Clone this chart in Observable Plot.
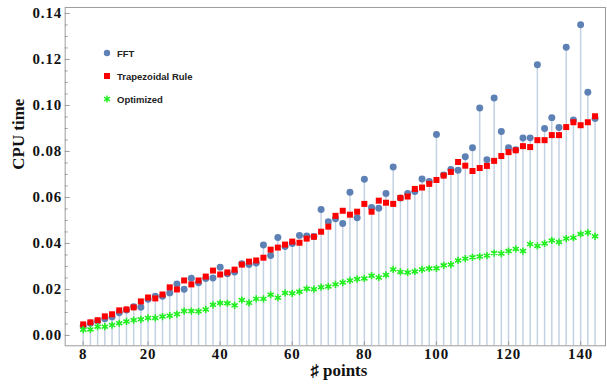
<!DOCTYPE html>
<html><head><meta charset="utf-8">
<script src="https://cdn.jsdelivr.net/npm/d3@7"></script>
<script src="https://cdn.jsdelivr.net/npm/@observablehq/plot@0.6"></script>
<style>
html,body{margin:0;padding:0;overflow:hidden;background:#fff;}
#wrap{position:relative;width:607px;height:387px;overflow:hidden;}
#legend{position:absolute;left:0;top:0;font-family:"Liberation Sans",Arial,sans-serif;font-size:9.5px;font-weight:bold;color:#222;}
.item{position:absolute;left:102px;display:flex;align-items:center;white-space:nowrap;height:10px;}
.item svg{margin-right:5px;}
g[aria-label="y-axis tick label"] text, g[aria-label="x-axis tick label"] text{letter-spacing:0.9px;}
</style></head><body><div id="wrap"><div id="legend"></div></div>
<script>
// x positions of the samples (tick "8" sits at the first sample)
const nPoints = d3.range(2, 146, 2);
const fftTimes = [0.0040,0.0053,0.0063,0.0073,0.0080,0.0099,0.0111,0.0125,0.0123,0.0157,
  0.0171,0.0170,0.0185,0.0224,0.0201,0.0249,0.0229,0.0248,0.0250,0.0297,
  0.0268,0.0276,0.0312,0.0308,0.0315,0.0393,0.0348,0.0426,0.0387,0.0400,
  0.0435,0.0432,0.0430,0.0548,0.0494,0.0507,0.0487,0.0623,0.0512,0.0679,
  0.0556,0.0553,0.0617,0.0732,0.0598,0.0617,0.0626,0.0680,0.0669,0.0874,
  0.0698,0.0722,0.0718,0.0777,0.0816,0.0989,0.0764,0.1032,0.0887,0.0816,
  0.0807,0.0858,0.0859,0.1177,0.0900,0.0947,0.0904,0.1253,0.0937,0.1351,
  0.1057,0.0943];
const trapTimes = [0.0048,0.0057,0.0066,0.0083,0.0092,0.0109,0.0113,0.0122,0.0148,0.0165,
  0.0161,0.0178,0.0209,0.0200,0.0239,0.0222,0.0239,0.0256,0.0282,0.0265,
  0.0274,0.0286,0.0308,0.0321,0.0326,0.0338,0.0373,0.0382,0.0395,0.0408,
  0.0403,0.0421,0.0429,0.0451,0.0473,0.0520,0.0542,0.0525,0.0538,0.0572,
  0.0538,0.0586,0.0577,0.0572,0.0598,0.0604,0.0637,0.0643,0.0659,0.0676,
  0.0695,0.0711,0.0754,0.0738,0.0715,0.0728,0.0737,0.0759,0.0780,0.0797,
  0.0805,0.0823,0.0819,0.0849,0.0849,0.0871,0.0871,0.0906,0.0927,0.0914,
  0.0927,0.0953];
const optTimes = [0.0025,0.0026,0.0038,0.0038,0.0045,0.0053,0.0061,0.0067,0.0070,0.0076,
  0.0076,0.0082,0.0086,0.0093,0.0106,0.0106,0.0105,0.0113,0.0133,0.0141,
  0.0140,0.0131,0.0154,0.0142,0.0159,0.0159,0.0177,0.0164,0.0185,0.0183,
  0.0190,0.0203,0.0201,0.0210,0.0213,0.0222,0.0230,0.0239,0.0245,0.0248,
  0.0260,0.0252,0.0263,0.0287,0.0276,0.0274,0.0278,0.0287,0.0291,0.0292,
  0.0305,0.0308,0.0326,0.0334,0.0340,0.0343,0.0347,0.0358,0.0356,0.0367,
  0.0376,0.0367,0.0397,0.0389,0.0400,0.0413,0.0406,0.0421,0.0425,0.0441,
  0.0447,0.0431];
const seriesNames = ["FFT", "Trapezoidal Rule", "Optimized"];
const xTickValues = [2, 20, 40, 60, 80, 100, 120, 140];
const xTickLabels = ["8", "20", "40", "60", "80", "100", "120", "140"];
const yTickValues = [0, 0.02, 0.04, 0.06, 0.08, 0.10, 0.12, 0.14];
const yMinorTicks = [0.005,0.01,0.015,0.025,0.03,0.035,0.045,0.05,0.055,0.065,0.07,0.075,0.085,0.09,0.095,0.105,0.11,0.115,0.125,0.13,0.135];
const xLabel = "\u266F points";
const yLabel = "CPU time";

const xDomain = [-3, 146.9];
const yDomain = [-0.0045, 0.1426];
const frameColor = "#9c9c9c";
const colors = {fft: "#5e81b5", trap: "#ff0000", opt: "#22ee22", stem: "#c3d1e4"};
const xLabelMap = new Map(xTickValues.map((v, i) => [v, xTickLabels[i]]));

const rows = nPoints.map((x, i) => ({x, fft: fftTimes[i], trap: trapTimes[i], opt: optTimes[i]}));
const tickFont = {fontSize: 15, fontWeight: "bold", fontFamily: "Liberation Serif", fill: "#111"};

const chart = Plot.plot({
  width: 610, height: 387,
  marginLeft: 65, marginRight: 2, marginTop: 7, marginBottom: 40,
  x: {domain: xDomain, label: null},
  y: {domain: yDomain, label: null},
  style: {fontFamily: "Liberation Serif", background: "white", overflow: "visible"},
  marks: [
    Plot.ruleX(rows, {x: "x", y1: () => yDomain[0], y2: "fft", stroke: colors.stem, strokeWidth: 1.5}),
    Plot.frame({stroke: frameColor}),
    Plot.axisY({ticks: yTickValues, tickSize: 5, dx: 5, tickFormat: () => "", stroke: frameColor, label: null}),
    Plot.axisY({ticks: yMinorTicks, tickSize: 3, dx: 3, tickFormat: () => "", stroke: frameColor, label: null}),
    Plot.axisY({ticks: yTickValues, tickSize: 0, tickPadding: 3, tickFormat: d3.format(".2f"), label: null, ...tickFont}),
    Plot.axisX({ticks: xTickValues, tickSize: 4, dy: -4, tickFormat: () => "", stroke: frameColor, label: null}),
    Plot.axisX({ticks: xTickValues, tickSize: 0, tickPadding: 3, tickFormat: d => xLabelMap.get(d), label: null, ...tickFont}),
    Plot.dot(rows, {x: "x", y: "fft", r: 3.5, fill: colors.fft}),
    Plot.dot(rows, {x: "x", y: "trap", r: 3.4, symbol: "square", fill: colors.trap}),
    Plot.dot(rows, {x: "x", y: "opt", r: 3.4, symbol: "asterisk", stroke: colors.opt, strokeWidth: 1.6}),
    Plot.text([yLabel], {frameAnchor: "left", dx: -47, dy: -7, rotate: -90, fontSize: 17, fontWeight: "bold", fontFamily: "Liberation Serif", fill: "#111"}),
    Plot.text([xLabel], {frameAnchor: "bottom", dx: 3.5, dy: 30, fontSize: 17, fontWeight: "bold", fontFamily: "Liberation Serif", fill: "#111"})
  ]
});
document.getElementById("wrap").prepend(chart);

// legend
const legend = document.getElementById("legend");
const markerSvg = [
  `<circle cx="5" cy="5" r="3.2" fill="${colors.fft}"/>`,
  `<rect x="2" y="2" width="6" height="6" fill="${colors.trap}"/>`,
  `<g stroke="${colors.opt}" stroke-width="1.5"><line x1="5" y1="1.5" x2="5" y2="8.5"/><line x1="2" y1="3.2" x2="8" y2="6.8"/><line x1="2" y1="6.8" x2="8" y2="3.2"/></g>`
];
const legendTops = [48, 71, 94];
seriesNames.forEach((name, i) => {
  const d = document.createElement("div");
  d.className = "item";
  d.style.top = legendTops[i] + "px";
  d.innerHTML = `<svg width="10" height="10">${markerSvg[i]}</svg><span>${name}</span>`;
  legend.appendChild(d);
});
</script>
</body></html>
